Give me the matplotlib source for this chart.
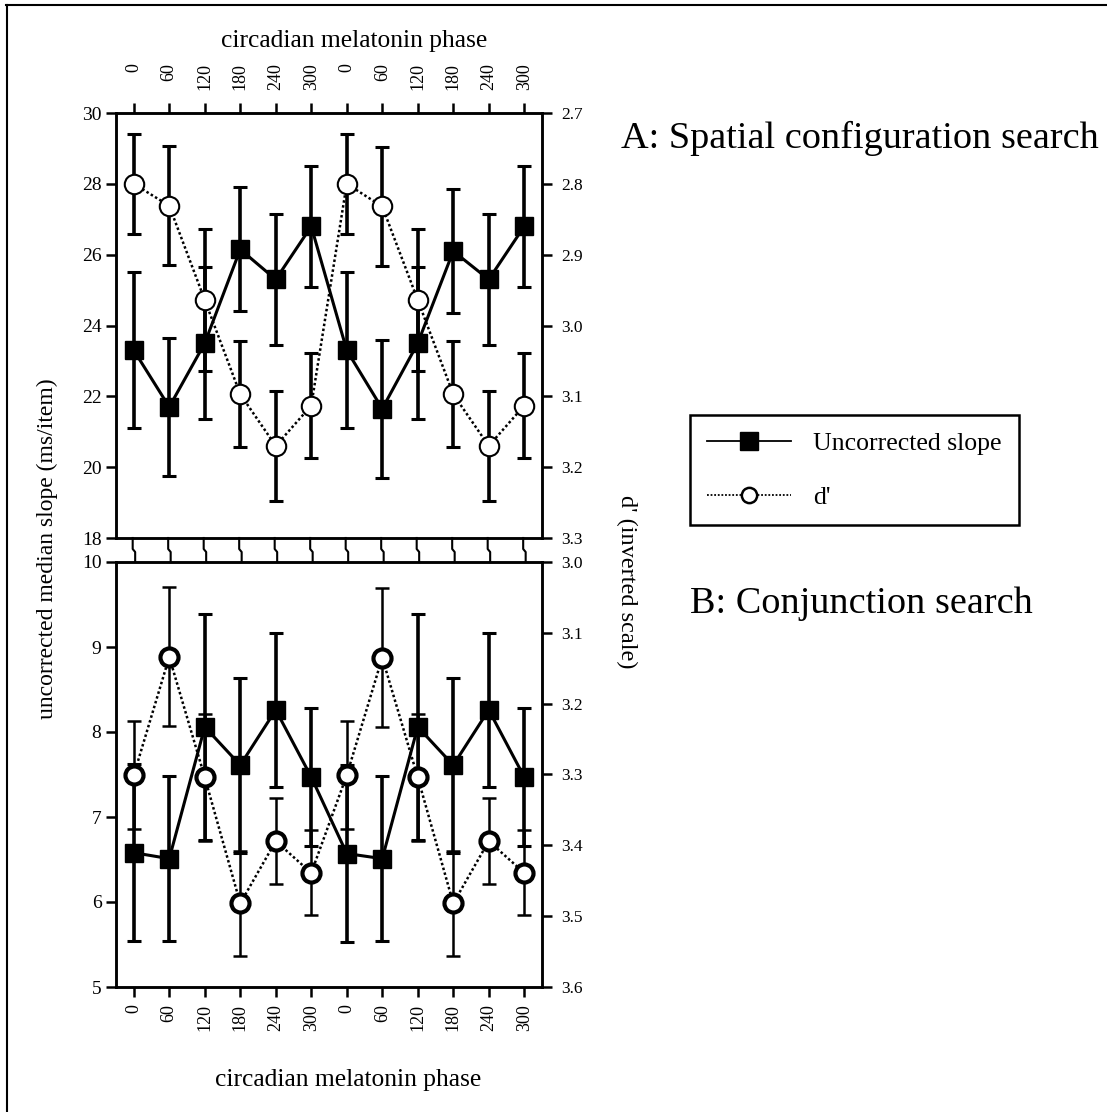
import matplotlib
matplotlib.use("Agg")
import matplotlib.pyplot as plt
from matplotlib.lines import Line2D
import matplotlib.transforms as mtransforms
import numpy as np

plt.rcParams['font.family'] = ['Liberation Serif', 'DejaVu Serif']

# ---------------- data ----------------
phase_labels = ['0', '60', '120', '180', '240', '300', '0', '60', '120', '180', '240', '300']

# Panel A: spatial configuration search
slope_A = [23.3, 21.7, 23.5, 26.15, 25.3, 26.8, 23.3, 21.65, 23.5, 26.1, 25.3, 26.8]
slope_A_err = [2.2, 1.95, 2.15, 1.75, 1.85, 1.7, 2.2, 1.95, 2.15, 1.75, 1.85, 1.7]
dprime_A = [2.800, 2.831, 2.964, 3.097, 3.170, 3.113, 2.800, 2.832, 2.964, 3.097, 3.170, 3.113]
dprime_A_err = [0.071, 0.084, 0.100, 0.075, 0.078, 0.074, 0.071, 0.084, 0.100, 0.075, 0.078, 0.074]

# Panel B: conjunction search
slope_B = [6.58, 6.51, 8.06, 7.61, 8.26, 7.47, 6.57, 6.51, 8.06, 7.61, 8.26, 7.47]
slope_B_err = [1.04, 0.97, 1.33, 1.03, 0.91, 0.81, 1.04, 0.97, 1.33, 1.03, 0.91, 0.81]
dprime_B = [3.301, 3.134, 3.304, 3.482, 3.394, 3.439, 3.301, 3.135, 3.304, 3.482, 3.394, 3.439]
dprime_B_err = [0.076, 0.098, 0.090, 0.074, 0.061, 0.060, 0.076, 0.098, 0.090, 0.074, 0.061, 0.060]

left_ticks_A = [18, 20, 22, 24, 26, 28, 30]
right_ticks_A = [2.7, 2.8, 2.9, 3.0, 3.1, 3.2, 3.3]
left_ticks_B = [5, 6, 7, 8, 9, 10]
right_ticks_B = [3.0, 3.1, 3.2, 3.3, 3.4, 3.5, 3.6]

# ---------------- figure ----------------
W, H = 1107, 1112
fig = plt.figure(figsize=(W / 100, H / 100), dpi=100)
fig.patch.set_facecolor('white')

def fx(px):
    return px / W

def fy(py):
    return 1 - py / H

ax_left, ax_right = 116, 542
topA, botA = 113, 538
topB, botB = 562, 987

axA = fig.add_axes([fx(ax_left), fy(botA), fx(ax_right - ax_left), (botA - topA) / H])
axB = fig.add_axes([fx(ax_left), fy(botB), fx(ax_right - ax_left), (botB - topB) / H])
axA2 = axA.twinx()
axB2 = axB.twinx()

x = np.arange(len(phase_labels))
SPINE_LW = 1.8
TICK_LEN = 7.5

sq_kw = dict(color='black', marker='s', linestyle='-', linewidth=2.2,
             markersize=13.5, markerfacecolor='black', markeredgecolor='black')

def style_axes(ax, ax2, lticks, rticks, ylim, ylim2, top_panel):
    for a in (ax, ax2):
        for s in a.spines.values():
            s.set_linewidth(SPINE_LW)
    ax.set_xlim(-0.5, 11.5)
    ax.set_ylim(*ylim)
    ax2.set_ylim(*ylim2)
    ax.set_yticks(lticks)
    ax.set_yticklabels([str(t) for t in lticks], fontsize=14)
    ax2.set_yticks(rticks)
    ax2.set_yticklabels(['%.1f' % t for t in rticks], fontsize=12.5)
    ax.tick_params(axis='y', direction='out', length=TICK_LEN, width=SPINE_LW, pad=3)
    ax2.tick_params(axis='y', direction='out', length=TICK_LEN, width=SPINE_LW, pad=6)
    ax.set_xticks(x)
    if top_panel:
        ax.tick_params(axis='x', bottom=False, labelbottom=False, top=True, labeltop=False,
                       direction='out', length=TICK_LEN, width=SPINE_LW)
        trans = mtransforms.blended_transform_factory(ax.transData, fig.transFigure)
        for xi, lab in zip(x, phase_labels):
            ax.text(xi, fy(63), lab, rotation=90, ha='center', va='top',
                    fontsize=13, transform=trans)
    else:
        ax.set_xticklabels(phase_labels, rotation=90, fontsize=13)
        ax.tick_params(axis='x', direction='out', length=TICK_LEN, width=SPINE_LW, pad=5)
    ax2.tick_params(axis='x', bottom=False, top=False, labelbottom=False, labeltop=False)
    for a in (ax, ax2):
        a.patch.set_visible(False)

style_axes(axA, axA2, left_ticks_A, right_ticks_A, (18, 30), (3.3, 2.7), True)
style_axes(axB, axB2, left_ticks_B, right_ticks_B, (5, 10), (3.6, 3.0), False)

# Panel A
axA.errorbar(x, slope_A, yerr=slope_A_err, fmt='none', ecolor='black',
             elinewidth=2.6, capsize=4.8, capthick=2.2, zorder=2)
axA.plot(x, slope_A, zorder=3, **sq_kw)
axA2.errorbar(x, dprime_A, yerr=dprime_A_err, fmt='none', ecolor='black',
              elinewidth=2.6, capsize=4.8, capthick=2.2, zorder=2)
axA2.plot(x, dprime_A, color='black', linestyle=(0, (1, 1)), linewidth=1.8,
          marker='o', markersize=14, markerfacecolor='white',
          markeredgecolor='black', markeredgewidth=1.5, zorder=3)

# Panel B
axB.errorbar(x, slope_B, yerr=slope_B_err, fmt='none', ecolor='black',
             elinewidth=2.6, capsize=4.8, capthick=2.2, zorder=2)
axB.plot(x, slope_B, zorder=3, **sq_kw)
axB2.errorbar(x, dprime_B, yerr=dprime_B_err, fmt='none', ecolor='black',
              elinewidth=1.8, capsize=5.0, capthick=1.8, zorder=2)
axB2.plot(x, dprime_B, color='black', linestyle=(0, (1, 1)), linewidth=1.8,
          marker='o', markersize=13, markerfacecolor='white',
          markeredgecolor='black', markeredgewidth=3.0, zorder=3)

# axis break marks between panels
btrans = mtransforms.blended_transform_factory(axA.transData, fig.transFigure)
for xi in x:
    xs = [xi - 0.03, xi - 0.03, xi + 0.04, xi + 0.04]
    ys = [fy(botA), fy(549), fy(552), fy(topB)]
    fig.add_artist(Line2D(xs, ys, transform=btrans, color='black', linewidth=1.5))

# outer border (top and left)
fig.add_artist(Line2D([fx(6), fx(1107)], [fy(5), fy(5)], color='black', linewidth=1.5))
fig.add_artist(Line2D([fx(7), fx(7)], [fy(5), fy(1112)], color='black', linewidth=1.5))

# axis titles
fig.text(fx(354), fy(41), 'circadian melatonin phase', ha='center', va='center', fontsize=18.4)
fig.text(fx(348), fy(1080), 'circadian melatonin phase', ha='center', va='center', fontsize=18.4)
fig.text(fx(47), fy(549), 'uncorrected median slope (ms/item)', rotation=90,
         ha='center', va='center', fontsize=17)
fig.text(fx(627), fy(582), "d' (inverted scale)", rotation=-90,
         ha='center', va='center', fontsize=17.5)

# panel titles
fig.text(fx(621), fy(138), 'A: Spatial configuration search', ha='left', va='center', fontsize=27.5)
fig.text(fx(690), fy(604), 'B: Conjunction search', ha='left', va='center', fontsize=27.5)

# legend
handles = [
    Line2D([], [], color='black', linestyle='-', linewidth=1.3, marker='s',
           markersize=13, markerfacecolor='black', markeredgecolor='black'),
    Line2D([], [], color='black', linestyle=(0, (1, 1)), linewidth=1.3, marker='o',
           markersize=11, markerfacecolor='white', markeredgecolor='black',
           markeredgewidth=1.8),
]
leg = fig.legend(handles, ['Uncorrected slope', "d'"], loc='upper left',
                 bbox_to_anchor=(fx(690), fy(415)), borderaxespad=0,
                 fontsize=18.5, frameon=True, fancybox=False, edgecolor='black',
                 framealpha=1, handlelength=3.3, handletextpad=0.85,
                 borderpad=0.65, labelspacing=1.2)
leg.get_frame().set_linewidth(1.8)

fig.savefig('out.png', dpi=100, facecolor='white')
